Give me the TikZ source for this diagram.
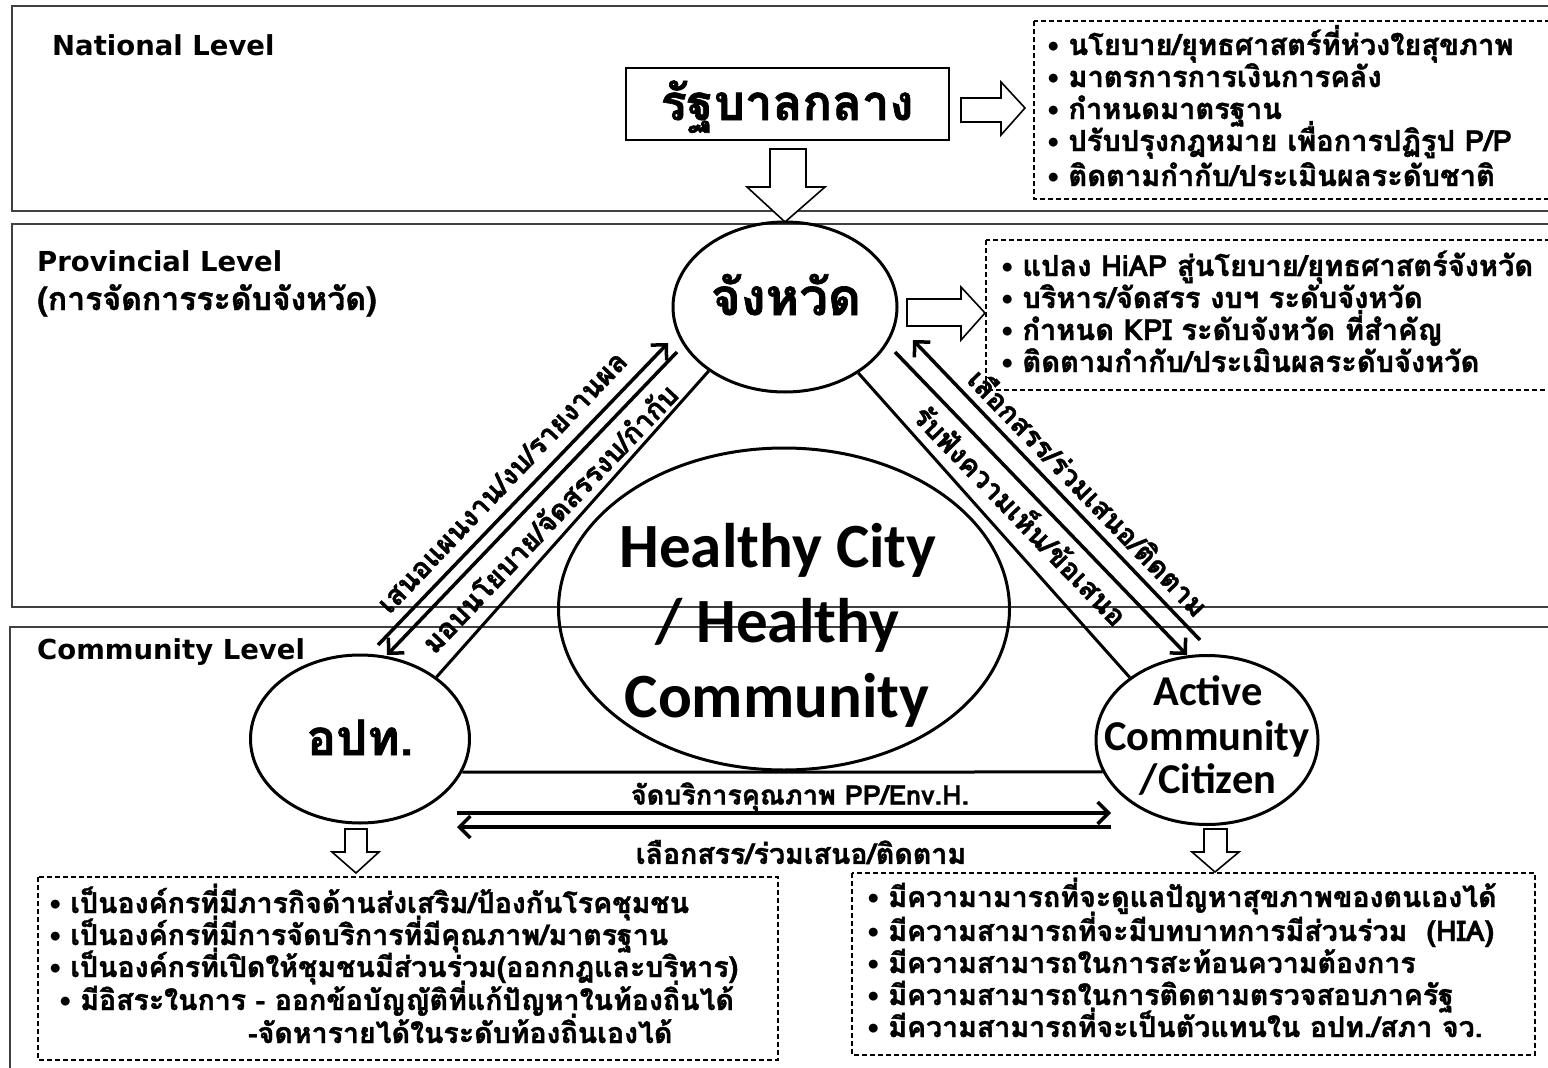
\documentclass[tikz,border=0pt]{standalone}
\usepackage{fontspec}
\setmainfont{Carlito}
\newfontfamily\thaifont[Script=Thai, BoldFeatures={FakeBold=1.3}]{Loma}
\newfontfamily\calfont{Carlito}
\newfontfamily\dvfont{DejaVu Sans}
\usetikzlibrary{arrows.meta,shapes.geometric}
\newcommand\bul{\raisebox{3pt}{\calfont\fontsize{21pt}{21pt}\selectfont\textbullet}\ }
\tikzset{
  panel/.style={draw=black!75, line width=1.5pt},
  dbox/.style={draw, line width=1.4pt, dash pattern=on 5pt off 3pt},
  oval/.style={draw, ellipse, line width=3pt, inner sep=0pt},
  rbox/.style={draw, rectangle, line width=2pt, inner sep=0pt},
  conn/.style={line width=3pt},
  darrow/.style={line width=3.5pt, -{Straight Barb[length=11pt,width=22pt]}},
  blk/.style={draw, line width=1.6pt, fill=white, line join=miter},
  tb/.style={font=\thaifont\bfseries\fontsize{28.5pt}{32pt}\selectfont, inner sep=0pt},
  tbt/.style={font=\thaifont\bfseries\fontsize{29pt}{32pt}\selectfont, inner sep=0pt, anchor=base west},
  lvl/.style={font=\dvfont\bfseries\fontsize{27.5pt}{32pt}\selectfont, inner sep=0pt, anchor=base west},
  lvlt/.style={font=\thaifont\bfseries\fontsize{32pt}{36pt}\selectfont, inner sep=0pt, anchor=base west},
  bigt/.style={font=\thaifont\bfseries\fontsize{49pt}{52pt}\selectfont, inner sep=0pt, anchor=base},
  hcf/.style={font=\calfont\bfseries\fontsize{63pt}{70pt}\selectfont, inner sep=0pt, anchor=base},
  acf/.style={font=\calfont\bfseries\fontsize{42.5pt}{44pt}\selectfont, inner sep=0pt, anchor=base},
}
\begin{document}
\begin{tikzpicture}[x=1pt,y=-1pt]
\useasboundingbox (0,0) rectangle (1548,1068);
% panels
\draw[panel] (12,6) rectangle (1562,211);
\draw[panel] (12,224) rectangle (1562,607);
\draw[panel] (10,627) rectangle (1562,1080);
% level labels
\node[lvl] (natl) at (52,55) {National Level};
\node[lvl] (provl) at (37,271) {Provincial Level};
\node[lvlt] (provl2) at (37,310) {(การจัดการระดับจังหวัด)};
\node[lvl] (coml) at (37,659) {Community Level};
% central government
\node[rbox, minimum width=323pt, minimum height=72pt] (gov) at (787.5,104) {};
\node[bigt] (govt) at (787,120) {รัฐบาลกลาง};
% block arrows
\draw[blk] (961,98) -- (1001,98) -- (1001,82) -- (1025,108) -- (1001,135) -- (1001,122) -- (961,122) -- cycle;
\draw[blk] (770,149) -- (806,149) -- (806,187) -- (825,187) -- (785,222) -- (747,187) -- (770,187) -- cycle;
\draw[blk] (907,299) -- (961,299) -- (961,287) -- (985,313) -- (961,340) -- (961,326) -- (907,326) -- cycle;
\draw[blk] (345,829) -- (367,829) -- (367,852) -- (379,852) -- (356,873) -- (332,852) -- (345,852) -- cycle;
\draw[blk] (1204,829) -- (1227,829) -- (1227,852) -- (1239,852) -- (1215,872) -- (1192,852) -- (1204,852) -- cycle;
% dashed boxes
\draw[dbox] (1034,21) rectangle (1562,199);
\draw[dbox] (986,240) rectangle (1562,390);
\draw[dbox] (38,877) rectangle (778,1060);
\draw[dbox] (852,873) rectangle (1535,1055);
% national list
\node[tbt] (n1) at (1048,55) {\bul นโยบาย/ยุทธศาสตร์ที่ห่วงใยสุขภาพ};
\node[tbt] (n2) at (1048,87) {\bul มาตรการการเงินการคลัง};
\node[tbt] (n3) at (1048,119) {\bul กำหนดมาตรฐาน};
\node[tbt] (n4) at (1048,151) {\bul ปรับปรุงกฎหมาย เพื่อการปฏิรูป P/P};
\node[tbt] (n5) at (1048,186) {\bul ติดตามกำกับ/ประเมินผลระดับชาติ};
% provincial list
\node[tbt] (p1) at (1002,276) {\bul แปลง HiAP สู่นโยบาย/ยุทธศาสตร์จังหวัด};
\node[tbt] (p2) at (1002,308) {\bul บริหาร/จัดสรร งบฯ ระดับจังหวัด};
\node[tbt] (p3) at (1002,340) {\bul กำหนด KPI ระดับจังหวัด ที่สำคัญ};
\node[tbt] (p4) at (1002,372) {\bul ติดตามกำกับ/ประเมินผลระดับจังหวัด};
% ellipses
\node[oval, minimum width=224pt, minimum height=170pt] (prov) at (785,307) {};
\node[bigt, font=\thaifont\bfseries\fontsize{51pt}{54pt}\selectfont] (provt) at (786,315) {จังหวัด};
\node[oval, minimum width=451pt, minimum height=322pt] (hc) at (784,609) {};
\node[hcf] (hc1) at (778,567) {Healthy City};
\node[hcf] (hc2) at (777,642) {/ Healthy};
\node[hcf] (hc3) at (777,717) {Community};
\node[oval, minimum width=219pt, minimum height=168pt] (opt) at (360,739) {};
\node[bigt] (optt) at (360,755) {อปท.};
\node[oval, minimum width=222pt, minimum height=169pt] (act) at (1207,740) {};
\node[acf] (act1) at (1208,705) {Active};
\node[acf] (act2) at (1207,750) {Community};
\node[acf] (act3) at (1208,793) {/Citizen};
% triangle edges
\draw[conn] (prov.220) -- (opt.39);
\draw[conn] (prov.318) -- (act.141);
\draw[conn] (opt.-18) -- (act.197);
% diagonal arrows
\coordinate (la1) at (378,645); \coordinate (la2) at (668,343);
\coordinate (lb1) at (677,352); \coordinate (lb2) at (387,655);
\coordinate (ra1) at (1200,640); \coordinate (ra2) at (913,340);
\coordinate (rb1) at (895,352); \coordinate (rb2) at (1187,655);
\draw[darrow] (la1) -- (la2);
\draw[darrow] (lb1) -- (lb2);
\draw[darrow] (ra1) -- (ra2);
\draw[darrow] (rb1) -- (rb2);
% bottom arrows
\coordinate (ba1) at (457,813); \coordinate (ba2) at (1111,813);
\coordinate (bb1) at (1111,827); \coordinate (bb2) at (457,827);
\draw[darrow] (ba1) -- (ba2);
\draw[darrow] (bb1) -- (bb2);
% connector labels
\node[tb, rotate=46.5] (l1) at (502,482) {เสนอแผนงาน/งบ/รายงานผล};
\node[tb, rotate=46.5] (l2) at (549,518) {มอบนโยบาย/จัดสรรงบ/กำกับ};
\node[tb, rotate=-46] (r1) at (1089,492) {เลือกสรร/ร่วมเสนอ/ติดตาม};
\node[tb, rotate=-46] (r2) at (1022,514) {รับฟังความเห็น/ข้อเสนอ};
\node[tb, font=\thaifont\bfseries\fontsize{27pt}{32pt}\selectfont] (b1) at (800,797) {จัดบริการคุณภาพ PP/Env.H.};
\node[tb] (b2) at (801,852) {เลือกสรร/ร่วมเสนอ/ติดตาม};
% bottom-left list
\node[tb, anchor=base west] (o1) at (50,913) {\bul เป็นองค์กรที่มีภารกิจด้านส่งเสริม/ป้องกันโรคชุมชน};
\node[tb, anchor=base west] (o2) at (50,945) {\bul เป็นองค์กรที่มีการจัดบริการที่มีคุณภาพ/มาตรฐาน};
\node[tb, anchor=base west] (o3) at (50,977) {\bul เป็นองค์กรที่เปิดให้ชุมชนมีส่วนร่วม(ออกกฎและบริหาร)};
\node[tb, anchor=base west] (o4) at (60,1010) {\bul มีอิสระในการ - ออกข้อบัญญัติที่แก้ปัญหาในท้องถิ่นได้};
\node[tb, anchor=base west] (o5) at (248,1043) {-จัดหารายได้ในระดับท้องถิ่นเองได้};
% bottom-right list
\node[tb, anchor=base west] (c1) at (868,907) {\bul มีความามารถที่จะดูแลปัญหาสุขภาพของตนเองได้};
\node[tb, anchor=base west] (c2) at (868,941) {\bul มีความสามารถที่จะมีบทบาทการมีส่วนร่วม\ \ (HIA)};
\node[tb, anchor=base west] (c3) at (868,973) {\bul มีความสามารถในการสะท้อนความต้องการ};
\node[tb, anchor=base west] (c4) at (868,1005) {\bul มีความสามารถในการติดตามตรวจสอบภาครัฐ};
\node[tb, anchor=base west] (c5) at (868,1037) {\bul มีความสามารถที่จะเป็นตัวแทนใน อปท./สภา จว.};
\end{tikzpicture}
\end{document}
